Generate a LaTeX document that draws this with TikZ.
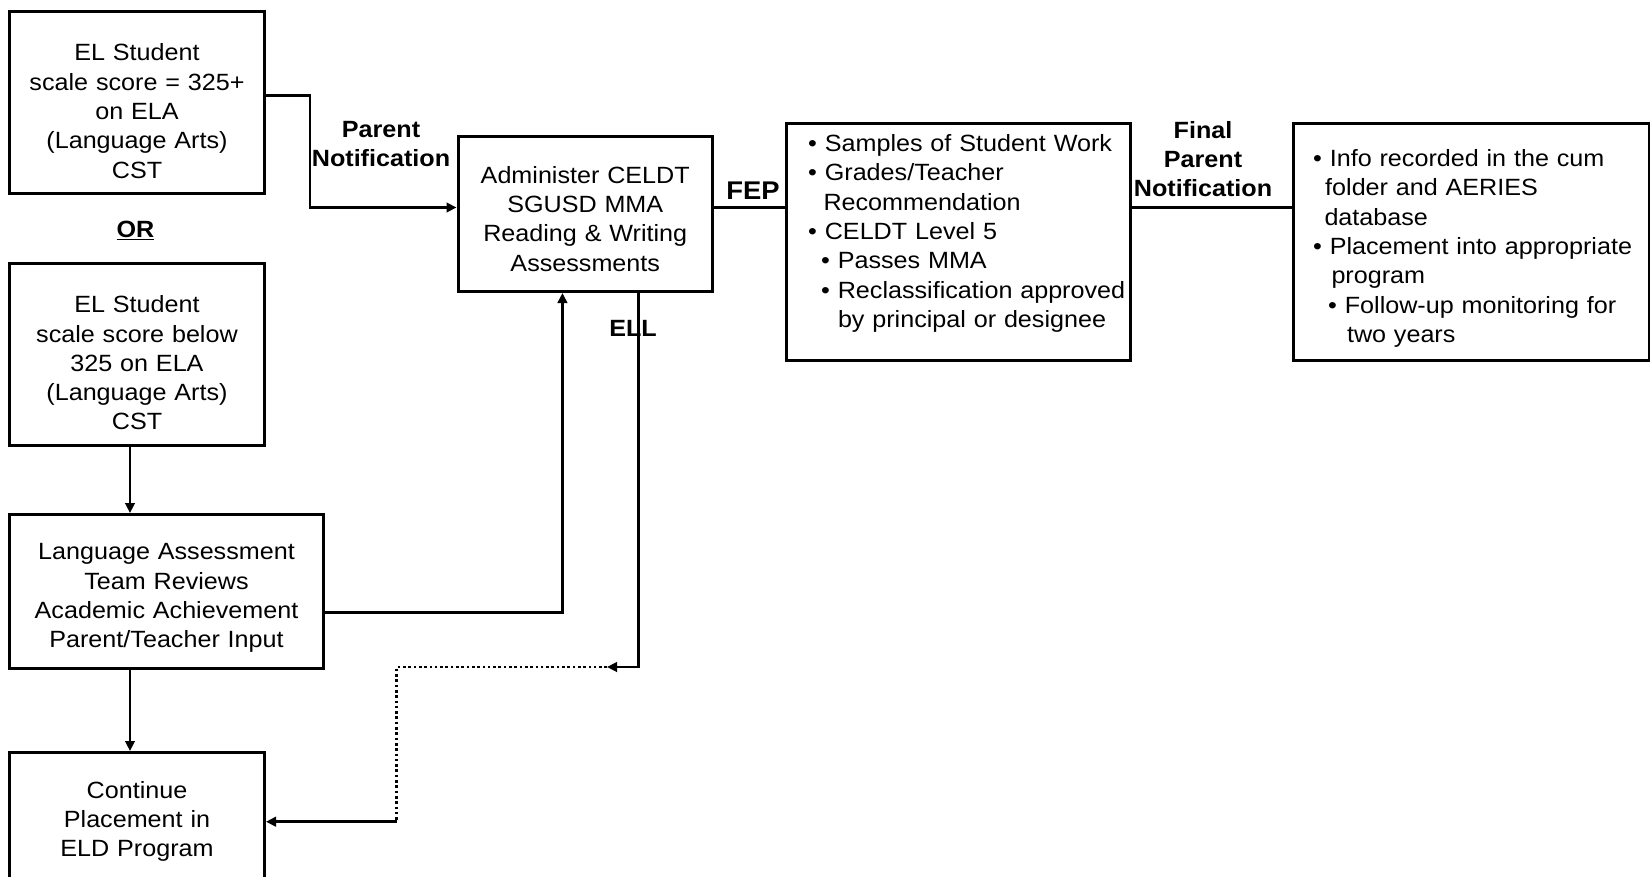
\documentclass[tikz,border=0pt]{standalone}
\usepackage{fontspec}
\setmainfont{Liberation Sans}[FakeStretch=1.07]
\usepackage{tikz}
\usetikzlibrary{positioning}
\usetikzlibrary{arrows.meta}

\begin{document}
\begin{tikzpicture}[
x=1pt, y=-1pt,
scorebox/.style={rectangle, draw=black, line width=3pt, inner sep=0pt, align=center, anchor=north west, font=\fontsize{23.5pt}{29.3pt}\selectfont},
listbox/.style={scorebox, align=left},
flowlabel/.style={font=\bfseries\fontsize{23.5pt}{29pt}\selectfont, align=center, inner sep=0pt},
flowline/.style={line width=2.6pt},
flowarrow/.style={flowline, -{Triangle[length=10pt,width=9.5pt]}},
dotline/.style={flowline, dash pattern=on 2.6pt off 2.7pt},
]

% White page, fixes the size
\path[use as bounding box, fill=white] (0,0) rectangle (1650,876);

% Left column boxes
\node[scorebox, text width=255pt, text height=49.8pt, text depth=132.2pt] (scorehigh) at (8,9.5) {EL Student\\scale score = 325+\\on ELA\\(Language Arts)\\CST};
\node[scorebox, text width=255pt, text height=49.5pt, text depth=132.8pt] (scorelow) at (8,261.7) {EL Student\\scale score below\\325 on ELA\\(Language Arts)\\CST};
\node[scorebox, text width=314pt, text height=45.4pt, text depth=108.6pt] (review) at (8,513) {Language Assessment\\Team Reviews\\Academic Achievement\\Parent/Teacher Input};
\node[scorebox, text width=255pt, text height=45.7pt, text depth=83.3pt] (placement) at (8,751) {Continue\\Placement in\\ELD Program};

% Assessment box
\node[scorebox, text width=254.5pt, text height=46.7pt, text depth=108.3pt] (celdt) at (456.5,135) {Administer CELDT\\SGUSD MMA\\Reading \& Writing\\Assessments};

% Reclassification boxes
\node[listbox, text width=344pt, text height=28pt, text depth=209pt] (fepcheck) at (785,122) {%
\hspace*{21.7pt}• Samples of Student Work\\
\hspace*{21.7pt}• Grades/Teacher\\
\hspace*{37pt}Recommendation\\
\hspace*{21.7pt}• CELDT Level 5\\
\hspace*{34.7pt}• Passes MMA\\
\hspace*{34.7pt}• Reclassification~approved\\
\hspace*{51.5pt}by principal or designee};
\node[listbox, text width=356pt, text height=43.3pt, text depth=194.3pt] (records) at (1292,121.7) {%
\hspace*{19.7pt}• Info recorded in the cum\\
\hspace*{31.7pt}folder and AERIES\\
\hspace*{31pt}database\\
\hspace*{19.7pt}• Placement into~appropriate\\
\hspace*{38pt}program\\
\hspace*{34.7pt}• Follow-up monitoring for\\
\hspace*{53.5pt}two years};

% Labels
\node[flowlabel] (ornote) at (135.5,230.5) {\underline{OR}};
\node[flowlabel, anchor=base] (notifylabel) at (381,166.7) {Parent\\Notification};
\node[flowlabel, font=\bfseries\fontsize{25.6pt}{30pt}\selectfont] (feplabel) at (753,191) {FEP};
\node[flowlabel, anchor=base] (finallabel) at (1203,196.7) {Final\\Parent\\Notification};
\node[flowlabel] (elllabel) at (633,328.3) {ELL};

% Turning points of the ELL path
\coordinate (elltip) at (607,667);
\coordinate (dotturn) at (396.7,821.7);

\draw[flowarrow] ([yshift=6.5pt]scorehigh.east) -- ++(44,0) |- ([yshift=6.5pt]celdt.west);
\draw[flowline] ([yshift=6.5pt]celdt.east) -- ([yshift=6.5pt]celdt.east -| fepcheck.west);
\draw[flowline] ([yshift=6.5pt]celdt.east -| fepcheck.east) -- ([yshift=6.5pt]celdt.east -| records.west);
\draw[flowarrow] ([xshift=-7pt]scorelow.south) -- ([xshift=-7pt]scorelow.south |- review.north);
\draw[flowarrow] ([yshift=-21pt]review.east) -| ([xshift=-22.8pt]celdt.south);
\draw[flowarrow] ([xshift=-36.5pt]review.south) -- ([xshift=-36.5pt]review.south |- placement.north);
\draw[flowarrow] ([xshift=53pt]celdt.south) |- (elltip);
\draw[dotline] (elltip) -| (dotturn);
\draw[flowarrow] (dotturn) -- (dotturn -| placement.east);
\end{tikzpicture}
\end{document}
